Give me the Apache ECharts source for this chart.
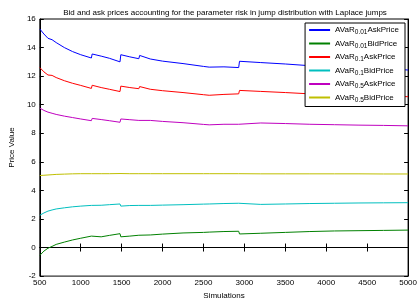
<!DOCTYPE html>
<html>
<head>
<meta charset="utf-8">
<script src="https://cdn.jsdelivr.net/npm/echarts@6/dist/echarts.min.js"></script>
<style>
  html, body { margin: 0; padding: 0; background: #fff; }
</style>
</head>
<body>
<div id="Echarts" style="width: 420px; height: 305px"></div>
<script>
// number of simulations (x) and the price
var sims = [500, 550, 600, 650, 700, 800, 900, 1000, 1130, 1140, 1250, 1350, 1480, 1490, 1600, 1710, 1720,
  1850, 2000, 2250, 2500, 2570, 2580, 2750, 2930, 2940, 3200, 3500, 3800, 4100, 4400, 4700, 5000]

var ask001 = [15.3, 14.95, 14.65, 14.55, 14.35, 14.0, 13.72, 13.5, 13.27, 13.55, 13.4, 13.25, 13.0, 13.5, 13.35, 13.22, 13.45,
  13.2, 13.05, 12.88, 12.68, 12.63, 12.7, 12.65, 12.6, 13.04, 12.95, 12.85, 12.73, 12.65, 12.58, 12.5, 12.43]
var bid001 = [-0.55, -0.25, -0.05, 0.08, 0.22, 0.38, 0.53, 0.65, 0.8, 0.68, 0.75, 0.85, 0.97, 0.75, 0.8, 0.86, 0.78,
  0.88, 0.94, 1.02, 1.06, 1.08, 1.08, 1.12, 1.14, 0.95, 1.0, 1.06, 1.12, 1.16, 1.18, 1.2, 1.22]
var ask01 = [12.6, 12.3, 12.08, 12.05, 11.9, 11.68, 11.5, 11.35, 11.14, 11.36, 11.2, 11.08, 10.92, 11.3, 11.2, 11.12, 11.27,
  11.08, 10.98, 10.85, 10.7, 10.66, 10.72, 10.72, 10.76, 11.0, 10.93, 10.85, 10.76, 10.7, 10.65, 10.6, 10.56]
var bid01 = [2.26, 2.42, 2.55, 2.63, 2.7, 2.78, 2.85, 2.9, 2.95, 2.9, 2.96, 3.0, 3.05, 2.9, 2.94, 2.95, 2.9,
  2.95, 2.97, 3.0, 3.04, 3.05, 3.05, 3.08, 3.1, 2.98, 3.02, 3.05, 3.08, 3.1, 3.12, 3.13, 3.14]
var ask05 = [9.76, 9.6, 9.48, 9.4, 9.32, 9.2, 9.1, 9.0, 8.88, 9.04, 8.96, 8.88, 8.77, 9.0, 8.95, 8.9, 9.0,
  8.9, 8.83, 8.74, 8.62, 8.59, 8.63, 8.63, 8.63, 8.76, 8.72, 8.68, 8.63, 8.6, 8.57, 8.55, 8.52]
var bid05 = [5.04, 5.06, 5.08, 5.1, 5.12, 5.14, 5.16, 5.17, 5.17, 5.17, 5.17, 5.17, 5.18, 5.17, 5.17, 5.17, 5.17,
  5.17, 5.17, 5.17, 5.17, 5.17, 5.17, 5.17, 5.17, 5.16, 5.16, 5.16, 5.16, 5.16, 5.16, 5.15, 5.15]

var names = ['AVaR0.01 AskPrice', 'AVaR0.01 BidPrice', 'AVaR0.1 AskPrice', 'AVaR0.1 BidPrice', 'AVaR0.5 AskPrice', 'AVaR0.5 BidPrice']
var subs = ['0.01', '0.01', '0.1', '0.1', '0.5', '0.5']
var kinds = ['AskPrice', 'BidPrice', 'AskPrice', 'BidPrice', 'AskPrice', 'BidPrice']
var values = [ask001, bid001, ask01, bid01, ask05, bid05]
var colors = ['#0000ff', '#008000', '#ff0000', '#00bfbf', '#bf00bf', '#bfbf00']

var myChart = echarts.init(document.getElementById('Echarts'))

var font = 'Liberation Sans, Arial, sans-serif'

var series = names.map(function (name, i) {
  return {
    name: name,
    type: 'line',
    symbol: 'none',
    color: colors[i],
    itemStyle: { color: colors[i] },
    lineStyle: { width: 1, color: colors[i] },
    data: sims.map(function (s, j) { return [s, values[i][j]] }),
    z: 3
  }
})

var option = {
  animation: false,
  backgroundColor: '#fff',
  title: {
    text: 'Bid and ask prices accounting for the parameter risk in jump distribution with Laplace jumps',
    left: 220,
    top: 4,
    textAlign: 'center',
    textStyle: { fontSize: 8, fontWeight: 'normal', color: '#000', fontFamily: font }
  },
  grid: { left: 31, right: 10, top: 19, bottom: 21, show: true, borderColor: '#000', borderWidth: 1 },
  legend: {
    data: names,
    orient: 'vertical',
    right: 15,
    top: 23,
    padding: [3, 6, 3, 4],
    itemGap: 3.5,
    icon: 'rect',
    itemWidth: 21,
    itemHeight: 2,
    backgroundColor: '#fff',
    borderColor: '#000',
    borderWidth: 1,
    formatter: function (name) {
      var i = names.indexOf(name)
      return 'AVaR{s|' + subs[i] + '}' + kinds[i]
    },
    textStyle: {
      fontSize: 8,
      color: '#000',
      fontFamily: font,
      rich: {
        s: { fontSize: 6.5, fontFamily: font, color: '#000', padding: [5, 0, 0, 0] }
      }
    }
  },
  xAxis: [
    {
      type: 'value',
      min: 500,
      max: 5000,
      interval: 500,
      name: 'Simulations',
      nameLocation: 'middle',
      nameGap: 14,
      nameTextStyle: { fontSize: 8, color: '#000', fontFamily: font },
      axisLine: { lineStyle: { color: '#000' } },
      axisTick: { inside: true, length: 4, lineStyle: { color: '#000' } },
      axisLabel: {
        fontSize: 8, color: '#000', fontFamily: font, margin: 3,
        formatter: function (v) { return String(v) }
      },
      splitLine: { show: false }
    },
    {
      type: 'value',
      position: 'top',
      min: 500,
      max: 5000,
      interval: 500,
      axisLine: { lineStyle: { color: '#000' } },
      axisTick: { inside: true, length: 4, lineStyle: { color: '#000' } },
      axisLabel: { show: false },
      splitLine: { show: false }
    }
  ],
  yAxis: [
    {
      type: 'value',
      min: -2,
      max: 16,
      interval: 2,
      name: 'Price Value',
      nameLocation: 'middle',
      nameGap: 21,
      nameTextStyle: { fontSize: 8, color: '#000', fontFamily: font },
      axisLine: { lineStyle: { color: '#000' } },
      axisTick: { inside: true, length: 4, lineStyle: { color: '#000' } },
      axisLabel: { fontSize: 8, color: '#000', fontFamily: font, margin: 4 },
      splitLine: { show: false }
    },
    {
      type: 'value',
      position: 'right',
      min: -2,
      max: 16,
      interval: 2,
      axisLine: { lineStyle: { color: '#000' } },
      axisTick: { inside: true, length: 4, lineStyle: { color: '#000' } },
      axisLabel: { show: false },
      splitLine: { show: false }
    }
  ],
  series: series
}

myChart.setOption(option)
</script>
</body>
</html>
